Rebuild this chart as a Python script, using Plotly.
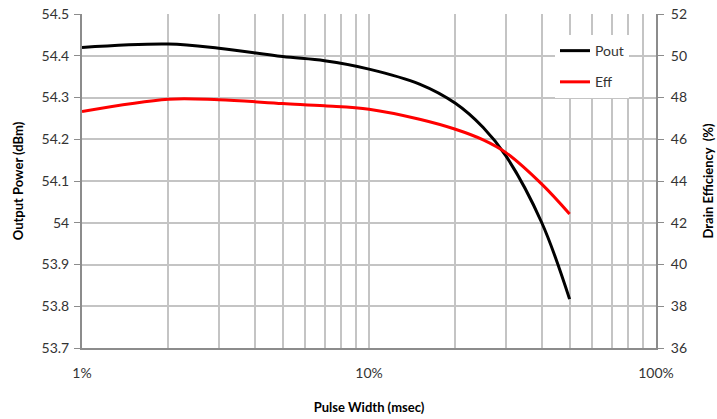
import plotly.graph_objects as go

# Data
pulse_width = [1, 2, 3, 5, 7, 10, 15, 20, 25, 30, 40, 50]  # percent
pout_dbm = [54.42, 54.428, 54.418, 54.398, 54.388, 54.368, 54.332, 54.286, 54.228, 54.16, 54.0, 53.817]
eff_pct = [47.33, 47.92, 47.89, 47.71, 47.6, 47.44, 46.96, 46.48, 45.97, 45.36, 43.85, 42.42]

x_tickvals = [1, 2, 3, 4, 5, 6, 7, 8, 9, 10, 20, 30, 40, 50, 60, 70, 80, 90, 100]
x_ticktext = ["1%"] + [""] * 8 + ["10%"] + [""] * 8 + ["100%"]
y1_tickvals = [53.7, 53.8, 53.9, 54.0, 54.1, 54.2, 54.3, 54.4, 54.5]
y1_ticktext = ["53.7", "53.8", "53.9", "54", "54.1", "54.2", "54.3", "54.4", "54.5"]
y2_tickvals = [36, 38, 40, 42, 44, 46, 48, 50, 52]

FONT = "Lato"
GRID = "#c4c4c4"
AXIS = "#8c8c8c"
TXT = "#333333"

fig = go.Figure()
fig.add_trace(go.Scatter(
    x=pulse_width, y=pout_dbm, name="Pout", mode="lines", legendgroup="a",
    line=dict(color="#000000", width=3, shape="spline", smoothing=1.0),
))
fig.add_trace(go.Scatter(
    x=pulse_width, y=eff_pct, name="Eff", mode="lines", yaxis="y2", legendgroup="b",
    line=dict(color="#ff0000", width=3, shape="spline", smoothing=1.0),
))

fig.update_layout(
    width=717, height=419,
    margin=dict(l=82, r=61, t=14, b=71),
    paper_bgcolor="white", plot_bgcolor="white",
    font=dict(family=FONT, size=13, color=TXT),
    showlegend=True,
    legend=dict(
        x=0.824, y=0.937, xanchor="left", yanchor="top",
        bgcolor="white", borderwidth=0,
        font=dict(family=FONT, size=14, color=TXT),
        traceorder="grouped", tracegroupgap=10,
    ),
    xaxis=dict(
        type="log", range=[0, 2], automargin=False,
        tickmode="array", tickvals=x_tickvals, ticktext=x_ticktext,
        showgrid=True, gridcolor=GRID, gridwidth=1.5,
        showline=True, linecolor=AXIS, linewidth=2,
        ticks="", ticklabelstandoff=11,
        tickfont=dict(family=FONT, size=14, color=TXT),
        title=dict(text="<b>Pulse Width (msec)</b>", font=dict(family=FONT, size=13, color="#000000"), standoff=23),
        zeroline=False,
    ),
    yaxis=dict(
        range=[53.7, 54.5], automargin=False,
        tickmode="array", tickvals=y1_tickvals, ticktext=y1_ticktext,
        showgrid=True, gridcolor=GRID, gridwidth=1.5,
        showline=True, linecolor=AXIS, linewidth=2,
        ticks="outside", ticklen=6, tickcolor=AXIS, tickwidth=1,
        ticklabelstandoff=2, ticklabeloverflow="allow",
        tickfont=dict(family=FONT, size=14, color=TXT),
        title=dict(text="<b>Output Power (dBm)</b>", font=dict(family=FONT, size=13, color="#000000"), standoff=15),
        zeroline=False,
    ),
    yaxis2=dict(
        range=[36, 52], overlaying="y", side="right", automargin=False,
        tickmode="array", tickvals=y2_tickvals,
        showgrid=False,
        showline=True, linecolor=AXIS, linewidth=2,
        ticks="outside", ticklen=6, tickcolor=AXIS, tickwidth=1,
        ticklabelstandoff=4, ticklabeloverflow="allow",
        tickfont=dict(family=FONT, size=14, color=TXT),
        title=dict(text="<b>Drain Efficiency  (%)</b>", font=dict(family=FONT, size=13, color="#000000"), standoff=18),
        zeroline=False,
    ),
)

# remove the page's default body margin so the figure fills the window exactly
fig.write_html("out.html", config={"displayModeBar": False},
               post_script="document.body.style.margin='0';")
